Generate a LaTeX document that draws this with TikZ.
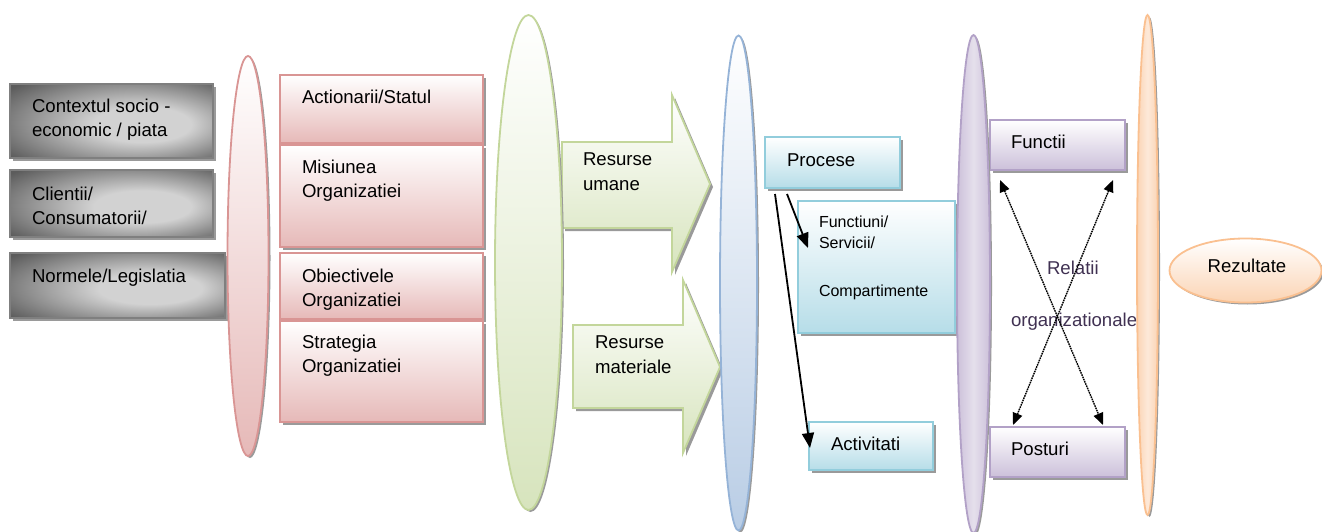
\documentclass[tikz,border=0pt]{standalone}
\usepackage{fontspec}
\setmainfont{Liberation Sans}
\usetikzlibrary{shapes.geometric,shadows,arrows.meta}

\definecolor{grayline}{HTML}{7F7F7F}
\definecolor{graylight}{HTML}{D2D2D2}
\definecolor{graydark}{HTML}{5C5C5C}
\definecolor{redline}{HTML}{D99594}
\definecolor{redfill}{HTML}{E6B9B8}
\definecolor{greenline}{HTML}{C3D69B}
\definecolor{greenfill}{HTML}{D7E4BD}
\definecolor{blueline}{HTML}{95B3D7}
\definecolor{bluefill}{HTML}{B9CDE5}
\definecolor{cyanline}{HTML}{92CDDC}
\definecolor{cyanfill}{HTML}{B6DDE8}
\definecolor{purpleline}{HTML}{B2A1C7}
\definecolor{purplefill}{HTML}{CCC0DA}
\definecolor{purplelight}{HTML}{E5E0EC}
\definecolor{orangeline}{HTML}{FAC090}
\definecolor{orangefill}{HTML}{FBD4B4}
\definecolor{orangelight}{HTML}{FDE9D9}
\definecolor{reltext}{HTML}{403152}
\definecolor{shadowgray}{HTML}{9A9A9A}

\pgfdeclareradialshading{grayglow}{\pgfpoint{10bp}{-3bp}}{%
  color(0bp)=(graylight); color(12bp)=(graylight);
  color(36bp)=(graydark); color(50bp)=(graydark)}

\tikzset{
  base/.style={inner sep=0pt, outer sep=0pt},
  boxshadow/.style={general shadow={fill=shadowgray, shadow xshift=3pt, shadow yshift=-3pt}},
  ellshadow/.style={general shadow={fill=shadowgray, shadow xshift=2pt, shadow yshift=-2pt}},
  graybox/.style={base, rectangle, draw=grayline, line width=1.6pt, shading=grayglow, boxshadow},
  redbox/.style={base, rectangle, draw=redline, line width=1.8pt, top color=white, bottom color=redfill, boxshadow},
  cyanbox/.style={base, rectangle, draw=cyanline, line width=1.8pt, top color=white, bottom color=cyanfill, boxshadow},
  purplebox/.style={base, rectangle, draw=purpleline, line width=1.8pt, top color=white, bottom color=purplefill, boxshadow},
  greenarrow/.style={draw=greenline, line width=1.8pt, top color=white, bottom color=greenfill, boxshadow},
  oval/.style={base, ellipse, line width=1.8pt, ellshadow},
  txt/.style={base, anchor=base west, font=\fontsize{18.6}{24}\selectfont},
  smalltxt/.style={base, anchor=base west, font=\fontsize{16}{21}\selectfont},
  procarrow/.style={line width=1.8pt, -{Triangle[length=15pt,width=12pt]}},
  relarrow/.style={line width=1.4pt, dash pattern=on 1.6pt off 0.8pt, {Triangle[length=12pt,width=10pt]}-{Triangle[length=12pt,width=10pt]}},
}

\begin{document}
\begin{tikzpicture}[x=1pt, y=-1pt]
\useasboundingbox (0,0) rectangle (1322,532);

% environment boxes
\node[graybox, anchor=north west, minimum width=203pt, minimum height=74pt] (ctx) at (10,84) {};
\node[graybox, anchor=north west, minimum width=203pt, minimum height=67pt] (cli) at (10,170) {};
\node[graybox, anchor=north west, minimum width=215pt, minimum height=65pt] (norm) at (10,253) {};
\node[txt] (tctx1) at (32,113) {Contextul socio -};
\node[txt] (tctx2) at (32,137) {economic / piata};
\node[txt] (tcli1) at (32,200) {Clientii/};
\node[txt] (tcli2) at (32,224) {Consumatorii/};
\node[txt] (tnorm) at (32,282) {Normele/Legislatia};

% strategic boxes
\node[redbox, anchor=north west, minimum width=203pt, minimum height=68pt] (act) at (280,75) {};
\node[redbox, anchor=north west, minimum width=203pt, minimum height=102pt] (mis) at (280,145) {};
\node[redbox, anchor=north west, minimum width=203pt, minimum height=66pt] (obj) at (280,253) {};
\node[redbox, anchor=north west, minimum width=203pt, minimum height=101pt] (str) at (280,321) {};
\node[txt] (tact) at (302,104) {Actionarii/Statul};
\node[txt] (tmis1) at (302,173) {Misiunea};
\node[txt] (tmis2) at (302,197) {Organizatiei};
\node[txt] (tobj1) at (302,282) {Obiectivele};
\node[txt] (tobj2) at (302,306) {Organizatiei};
\node[txt] (tstr1) at (302,348) {Strategia};
\node[txt] (tstr2) at (302,372) {Organizatiei};

% resource arrows
\path[greenarrow] (562,142) -- (672,142) -- (672,95) -- (710,184) -- (672,272) -- (672,228) -- (562,228) -- cycle;
\path[greenarrow] (573,325) -- (683,325) -- (683,280) -- (720,367) -- (683,453) -- (683,408) -- (573,408) -- cycle;
\node[txt] (tres1) at (583,165) {Resurse};
\node[txt] (tres2) at (583,190) {umane};
\node[txt] (tmat1) at (595,348) {Resurse};
\node[txt] (tmat2) at (595,373) {materiale};

% process boxes
\node[cyanbox, anchor=north west, minimum width=135pt, minimum height=51pt] (proc) at (765,137) {};
\node[cyanbox, anchor=north west, minimum width=157pt, minimum height=132pt] (func) at (798,201) {};
\node[cyanbox, anchor=north west, minimum width=124pt, minimum height=48pt] (activ) at (809,422) {};
\node[txt] (tproc) at (787,166) {Procese};
\node[smalltxt] (tfunc1) at (819,227) {Functiuni/};
\node[smalltxt] (tfunc2) at (819,248) {Servicii/};
\node[smalltxt] (tfunc3) at (819,296) {Compartimente};
\node[txt] (tactiv) at (831,450) {Activitati};

% structure boxes
\node[purplebox, anchor=north west, minimum width=135pt, minimum height=50pt] (fct) at (990,120) {};
\node[purplebox, anchor=north west, minimum width=135pt, minimum height=50pt] (post) at (990,427) {};
\node[txt] (tfct) at (1011,149) {Functii};
\node[txt] (tpost) at (1011,455) {Posturi};
\node[txt, text=reltext] (trel1) at (1047,274) {Relatii};
\node[txt, text=reltext] (trel2) at (1011,326) {organizationale};

% stage ovals
\node[oval, draw=redline, top color=white, bottom color=redfill, minimum width=41pt, minimum height=400pt] (ovred) at (248,256) {};
\node[oval, draw=greenline, top color=white, bottom color=greenfill, minimum width=67pt, minimum height=495pt] (ovgreen) at (528.5,262.5) {};
\node[oval, draw=blueline, top color=white, bottom color=bluefill, minimum width=37pt, minimum height=495pt] (ovblue) at (738.5,283) {};
\node[oval, draw=purpleline, left color=purplefill, right color=purplefill, middle color=purplelight, minimum width=33pt, minimum height=498pt] (ovpurple) at (973.5,284) {};
\node[oval, draw=orangeline, left color=orangefill, right color=orangefill, middle color=orangelight, minimum width=21pt, minimum height=500pt] (ovorange) at (1147.5,265) {};

% result
\node[oval, draw=orangeline, top color=white, bottom color=orangefill, minimum width=152pt, minimum height=64pt] (rez) at (1245.5,270.5) {};
\node[base, font=\fontsize{18.6}{24}\selectfont, anchor=base] (trez) at (1247,272) {Rezultate};

% process breakdown arrows
\coordinate (p1) at (787,194);
\coordinate (p2) at (775,194);
\coordinate (f1) at (808,248);
\coordinate (a1) at (810,448);
\draw[procarrow] (p1) -- (f1);
\draw[procarrow] (p2) -- (a1);

% organisational relations
\coordinate (fl) at (1000,180);
\coordinate (fr) at (1113,180);
\coordinate (pl) at (1013,425);
\coordinate (pr) at (1103,425);
\draw[relarrow] (fl) -- (pr);
\draw[relarrow] (fr) -- (pl);
\end{tikzpicture}
\end{document}
